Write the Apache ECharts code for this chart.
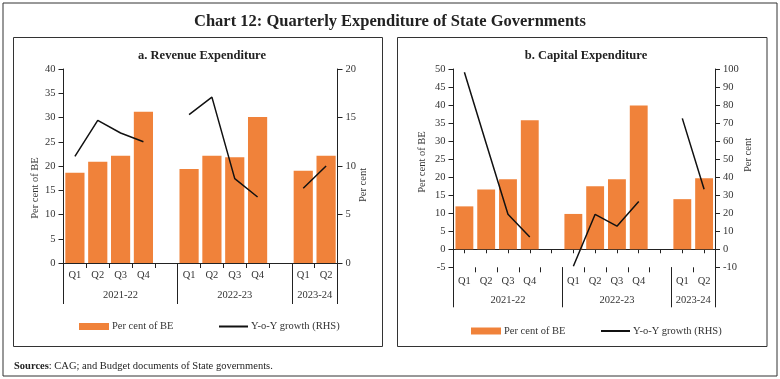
<!DOCTYPE html>
<html>
<head>
<meta charset="utf-8">
<script src="https://cdn.jsdelivr.net/npm/echarts@6/dist/echarts.min.js"></script>
<style>
html,body{margin:0;padding:0;background:#fff;}
#chart{width:780px;height:379px;}
</style>
</head>
<body>
<div id="chart"></div>
<script>
// ---- data ----
const years = ['2021-22', '2022-23', '2023-24'];
const quarters = [['Q1', 'Q2', 'Q3', 'Q4'], ['Q1', 'Q2', 'Q3', 'Q4'], ['Q1', 'Q2']];
const revShare = [18.6, 20.9, 22.1, 31.2, 19.4, 22.1, 21.8, 30.1, 19.0, 22.1];
const revGrowth = [11.0, 14.7, 13.4, 12.5, 15.3, 17.1, 8.7, 6.8, 7.7, 10.0];
const capShare = [11.9, 16.6, 19.4, 35.8, 9.8, 17.5, 19.4, 39.9, 13.9, 19.7];
const capGrowth = [98.2, 58.7, 19.4, 6.8, -9.4, 19.4, 12.8, 26.5, 72.6, 33.3];
const revLeftTicks = {min: 0, max: 40, interval: 5};
const revRightTicks = {min: 0, max: 20, interval: 5};
const capLeftTicks = {min: -5, max: 50, interval: 5};
const capRightTicks = {min: -10, max: 100, interval: 10};

// ---- build slot layout (blank slot after every group except the last) ----
const slotLabels = [];
const groupStart = [];
const groupSize = [];
quarters.forEach((qs, g) => {
  groupStart.push(slotLabels.length);
  qs.forEach(q => slotLabels.push(q));
  if (g < quarters.length - 1) slotLabels.push('');
  groupSize.push(slotLabels.length - groupStart[g]);
});
const nSlots = slotLabels.length;
function toSlots(vals) {
  const out = [];
  let k = 0;
  quarters.forEach((qs, g) => {
    qs.forEach(() => out.push(vals[k++]));
    if (g < quarters.length - 1) out.push(null);
  });
  return out;
}
const sepValues = groupStart.concat([nSlots]);
const yearCenters = groupStart.map((s, g) => s + groupSize[g] / 2);
function yearFmt(v) {
  const i = yearCenters.findIndex(c => Math.abs(c - v) < 1e-6);
  return i >= 0 ? years[i] : '';
}

const FONT = 'Liberation Serif';
const TXT = '#333';
const AX = '#222';
const ORANGE = '#F0823A';

function qAxis(gi, margin, showLine) {
  return {
    type: 'category', gridIndex: gi, data: slotLabels, position: 'bottom',
    boundaryGap: true,
    axisLine: {show: showLine, onZero: false, lineStyle: {color: AX, width: 1}},
    axisTick: {show: true, interval: 0, length: 5, lineStyle: {color: AX}},
    axisLabel: {interval: 0, margin: margin, color: TXT, fontFamily: FONT, fontSize: 10.5},
    splitLine: {show: false}
  };
}
function yearAxis(gi, margin, len) {
  return {
    type: 'value', gridIndex: gi, min: 0, max: nSlots, position: 'bottom',
    axisLine: {show: false, onZero: false},
    axisTick: {show: true, customValues: sepValues, length: len, lineStyle: {color: AX}},
    axisLabel: {show: true, customValues: yearCenters, formatter: yearFmt, margin: margin,
      color: TXT, fontFamily: FONT, fontSize: 10.5},
    splitLine: {show: false}
  };
}
function yAx(gi, t, pos) {
  return {
    type: 'value', gridIndex: gi, position: pos, min: t.min, max: t.max, interval: t.interval,
    axisLine: {show: true, onZero: false, lineStyle: {color: AX, width: 1}},
    axisTick: {show: true, length: 5, lineStyle: {color: AX}},
    axisLabel: {color: TXT, fontFamily: FONT, fontSize: 10.5, margin: 8},
    splitLine: {show: false}
  };
}

const barLegend = {icon: 'rect', itemWidth: 30, itemHeight: 7};
const lineLegend = {icon: 'rect', itemWidth: 29, itemHeight: 2};

const option = {
  animation: false,
  backgroundColor: '#fff',
  textStyle: {fontFamily: FONT},
  title: [
    {text: 'Chart 12: Quarterly Expenditure of State Governments', left: 'center', top: 8,
      textStyle: {fontFamily: FONT, fontSize: 16.5, fontWeight: 'bold', color: '#222'}},
    {text: 'a. Revenue Expenditure', left: 197, top: 44, textAlign: 'center',
      textStyle: {fontFamily: FONT, fontSize: 12.5, fontWeight: 'bold', color: '#222'}},
    {text: 'b. Capital Expenditure', left: 581, top: 44, textAlign: 'center',
      textStyle: {fontFamily: FONT, fontSize: 12.5, fontWeight: 'bold', color: '#222'}}
  ],
  grid: [
    {left: 63.5, top: 69, width: 274, height: 194},
    {left: 453.5, top: 69, width: 261.5, height: 198.3}
  ],
  xAxis: [
    qAxis(0, 7, true),
    yearAxis(0, 27, 41),
    qAxis(1, 8, false),
    {
      type: 'category', gridIndex: 1, data: slotLabels, position: 'bottom', boundaryGap: true,
      axisLine: {show: true, onZero: true, onZeroAxisIndex: 2, lineStyle: {color: AX, width: 1}},
      axisTick: {show: true, interval: 0, alignWithLabel: true, length: 4, lineStyle: {color: AX}},
      axisLabel: {show: false}, splitLine: {show: false}
    },
    yearAxis(1, 27, 40)
  ],
  yAxis: [
    yAx(0, revLeftTicks, 'left'),
    yAx(0, revRightTicks, 'right'),
    yAx(1, capLeftTicks, 'left'),
    yAx(1, capRightTicks, 'right')
  ],
  legend: [
    Object.assign({data: ['Per cent of BE'], left: 74, top: 316}, barLegend),
    Object.assign({data: ['Y-o-Y growth (RHS)'], left: 214, top: 316}, lineLegend),
    Object.assign({data: ['Per cent of BE'], left: 466, top: 320.5}, barLegend),
    Object.assign({data: ['Y-o-Y growth (RHS)'], left: 596, top: 320.5}, lineLegend)
  ].map(l => Object.assign(l, {
    selectedMode: false,
    textStyle: {fontFamily: FONT, fontSize: 10.5, color: TXT, padding: [0, 0, 0, -2]}
  })),
  series: [
    {name: 'Per cent of BE', type: 'bar', xAxisIndex: 0, yAxisIndex: 0, data: toSlots(revShare),
      barCategoryGap: '16%', itemStyle: {color: ORANGE}},
    {name: 'Y-o-Y growth (RHS)', type: 'line', xAxisIndex: 0, yAxisIndex: 1, data: toSlots(revGrowth),
      symbol: 'none', connectNulls: false, lineStyle: {color: '#111', width: 1.5}, itemStyle: {color: '#111'}},
    {name: 'Per cent of BE', type: 'bar', xAxisIndex: 2, yAxisIndex: 2, data: toSlots(capShare),
      barCategoryGap: '18%', itemStyle: {color: ORANGE}},
    {name: 'Y-o-Y growth (RHS)', type: 'line', xAxisIndex: 2, yAxisIndex: 3, data: toSlots(capGrowth),
      symbol: 'none', connectNulls: false, lineStyle: {color: '#111', width: 1.5}, itemStyle: {color: '#111'}}
  ],
  graphic: [
    {type: 'rect', shape: {x: 3, y: 3, width: 774, height: 373}, style: {fill: 'none', stroke: '#333', lineWidth: 1}, silent: true},
    {type: 'rect', shape: {x: 13.5, y: 37.5, width: 369, height: 309}, style: {fill: 'none', stroke: '#333', lineWidth: 1}, silent: true},
    {type: 'rect', shape: {x: 397.5, y: 37.5, width: 369.5, height: 309}, style: {fill: 'none', stroke: '#333', lineWidth: 1}, silent: true},
    {type: 'text', x: 35, y: 188, rotation: Math.PI / 2,
      style: {text: 'Per cent of BE', font: '10.5px "Liberation Serif"', fill: TXT, align: 'center', verticalAlign: 'middle'}},
    {type: 'text', x: 363, y: 185, rotation: Math.PI / 2,
      style: {text: 'Per cent', font: '10.5px "Liberation Serif"', fill: TXT, align: 'center', verticalAlign: 'middle'}},
    {type: 'text', x: 422, y: 162, rotation: Math.PI / 2,
      style: {text: 'Per cent of BE', font: '10.5px "Liberation Serif"', fill: TXT, align: 'center', verticalAlign: 'middle'}},
    {type: 'text', x: 748, y: 155, rotation: Math.PI / 2,
      style: {text: 'Per cent', font: '10.5px "Liberation Serif"', fill: TXT, align: 'center', verticalAlign: 'middle'}},
    {type: 'text', x: 14, y: 366,
      style: {text: '{b|Sources}: CAG; and Budget documents of State governments.', verticalAlign: 'middle',
        font: '10.5px "Liberation Serif"', fill: '#222',
        rich: {b: {fontWeight: 'bold', fontFamily: FONT, fontSize: 10.5, fill: '#222'}}}}
  ]
};

const chart = echarts.init(document.getElementById('chart'), null, {renderer: 'canvas'});
chart.setOption(option);
</script>
</body>
</html>
